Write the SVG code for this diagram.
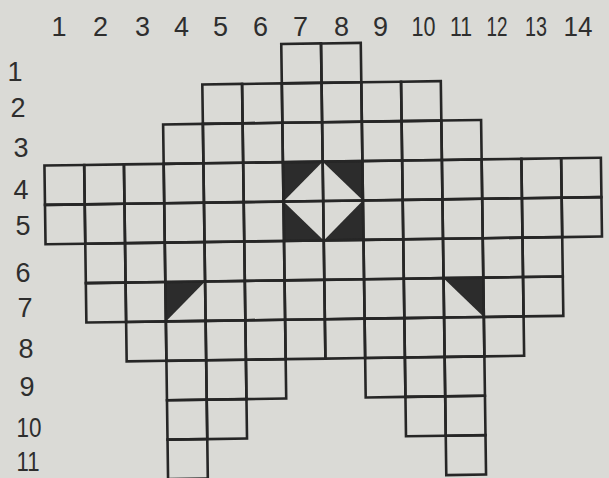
<svg xmlns="http://www.w3.org/2000/svg" width="609" height="478" viewBox="0 0 609 478">
<style>
.bg{fill:#dadad6}
.cell{fill:none;stroke:#262626;stroke-width:2.6}
.dark{fill:#2c2c2c}
.hole{fill:#dadad6}
.lbl{font-family:"Liberation Sans",Arial,sans-serif;font-size:27px;fill:#2e2e2e;text-anchor:middle}
</style>
<defs>
<rect id="c" width="39.75" height="39.4" class="cell"/>
</defs>
<rect class="bg" x="0" y="0" width="609" height="478"/>
<g id="grid" transform="rotate(-0.8 325 240)">
<g id="shading">
<rect class="dark" x="284" y="161.6" width="79.5" height="78.8"/>
<polygon class="hole" points="323.75,161.6 363.5,201 323.75,240.4 284,201"/>
<polygon class="dark" points="164.75,279.8 204.5,279.8 164.75,319.2"/>
<polygon class="dark" points="443,279.8 482.75,279.8 482.75,319.2"/>
</g>
<g id="row1">
<use href="#c" x="284" y="43.4"/><use href="#c" x="323.75" y="43.4"/>
</g>
<g id="row2">
<use href="#c" x="204.5" y="82.8"/><use href="#c" x="244.25" y="82.8"/><use href="#c" x="284" y="82.8"/><use href="#c" x="323.75" y="82.8"/><use href="#c" x="363.5" y="82.8"/><use href="#c" x="403.25" y="82.8"/>
</g>
<g id="row3">
<use href="#c" x="164.75" y="122.2"/><use href="#c" x="204.5" y="122.2"/><use href="#c" x="244.25" y="122.2"/><use href="#c" x="284" y="122.2"/><use href="#c" x="323.75" y="122.2"/><use href="#c" x="363.5" y="122.2"/><use href="#c" x="403.25" y="122.2"/><use href="#c" x="443" y="122.2"/>
</g>
<g id="row4">
<use href="#c" x="45.5" y="161.6"/><use href="#c" x="85.25" y="161.6"/><use href="#c" x="125" y="161.6"/><use href="#c" x="164.75" y="161.6"/><use href="#c" x="204.5" y="161.6"/><use href="#c" x="244.25" y="161.6"/><use href="#c" x="284" y="161.6"/><use href="#c" x="323.75" y="161.6"/><use href="#c" x="363.5" y="161.6"/><use href="#c" x="403.25" y="161.6"/><use href="#c" x="443" y="161.6"/><use href="#c" x="482.75" y="161.6"/><use href="#c" x="522.5" y="161.6"/><use href="#c" x="562.25" y="161.6"/>
</g>
<g id="row5">
<use href="#c" x="45.5" y="201"/><use href="#c" x="85.25" y="201"/><use href="#c" x="125" y="201"/><use href="#c" x="164.75" y="201"/><use href="#c" x="204.5" y="201"/><use href="#c" x="244.25" y="201"/><use href="#c" x="284" y="201"/><use href="#c" x="323.75" y="201"/><use href="#c" x="363.5" y="201"/><use href="#c" x="403.25" y="201"/><use href="#c" x="443" y="201"/><use href="#c" x="482.75" y="201"/><use href="#c" x="522.5" y="201"/><use href="#c" x="562.25" y="201"/>
</g>
<g id="row6">
<use href="#c" x="85.25" y="240.4"/><use href="#c" x="125" y="240.4"/><use href="#c" x="164.75" y="240.4"/><use href="#c" x="204.5" y="240.4"/><use href="#c" x="244.25" y="240.4"/><use href="#c" x="284" y="240.4"/><use href="#c" x="323.75" y="240.4"/><use href="#c" x="363.5" y="240.4"/><use href="#c" x="403.25" y="240.4"/><use href="#c" x="443" y="240.4"/><use href="#c" x="482.75" y="240.4"/><use href="#c" x="522.5" y="240.4"/>
</g>
<g id="row7">
<use href="#c" x="85.25" y="279.8"/><use href="#c" x="125" y="279.8"/><use href="#c" x="164.75" y="279.8"/><use href="#c" x="204.5" y="279.8"/><use href="#c" x="244.25" y="279.8"/><use href="#c" x="284" y="279.8"/><use href="#c" x="323.75" y="279.8"/><use href="#c" x="363.5" y="279.8"/><use href="#c" x="403.25" y="279.8"/><use href="#c" x="443" y="279.8"/><use href="#c" x="482.75" y="279.8"/><use href="#c" x="522.5" y="279.8"/>
</g>
<g id="row8">
<use href="#c" x="125" y="319.2"/><use href="#c" x="164.75" y="319.2"/><use href="#c" x="204.5" y="319.2"/><use href="#c" x="244.25" y="319.2"/><use href="#c" x="284" y="319.2"/><use href="#c" x="323.75" y="319.2"/><use href="#c" x="363.5" y="319.2"/><use href="#c" x="403.25" y="319.2"/><use href="#c" x="443" y="319.2"/><use href="#c" x="482.75" y="319.2"/>
</g>
<g id="row9">
<use href="#c" x="164.75" y="358.6"/><use href="#c" x="204.5" y="358.6"/><use href="#c" x="244.25" y="358.6"/><use href="#c" x="363.5" y="358.6"/><use href="#c" x="403.25" y="358.6"/><use href="#c" x="443" y="358.6"/>
</g>
<g id="row10">
<use href="#c" x="164.75" y="398"/><use href="#c" x="204.5" y="398"/><use href="#c" x="403.25" y="398"/><use href="#c" x="443" y="398"/>
</g>
<g id="row11">
<use href="#c" x="164.75" y="437.4"/><use href="#c" x="443" y="437.4"/>
</g>
</g>
<g id="col-labels" class="lbl">
<text x="59" y="35.5">1</text>
<text x="100.5" y="35.5">2</text>
<text x="142.5" y="35.5">3</text>
<text x="181.5" y="35.5">4</text>
<text x="220.5" y="35.5">5</text>
<text x="260.5" y="35.5">6</text>
<text x="300.5" y="35.5">7</text>
<text x="341.5" y="35.5">8</text>
<text x="380.5" y="35.5">9</text>
<text x="423.5" y="35.5" textLength="24" lengthAdjust="spacingAndGlyphs">10</text>
<text x="461" y="35.5" textLength="22" lengthAdjust="spacingAndGlyphs">11</text>
<text x="497" y="35.5" textLength="21" lengthAdjust="spacingAndGlyphs">12</text>
<text x="536" y="35.5" textLength="22" lengthAdjust="spacingAndGlyphs">13</text>
<text x="578" y="35.5" textLength="29" lengthAdjust="spacingAndGlyphs">14</text>
</g>
<g id="row-labels" class="lbl">
<text x="15" y="80.5">1</text>
<text x="18" y="116.5">2</text>
<text x="21" y="157">3</text>
<text x="21" y="199">4</text>
<text x="23" y="234.5">5</text>
<text x="23" y="282">6</text>
<text x="25" y="316.5">7</text>
<text x="26" y="358">8</text>
<text x="27" y="396">9</text>
<text x="29" y="437" textLength="25" lengthAdjust="spacingAndGlyphs">10</text>
<text x="28" y="471" textLength="23" lengthAdjust="spacingAndGlyphs">11</text>
</g>
</svg>
